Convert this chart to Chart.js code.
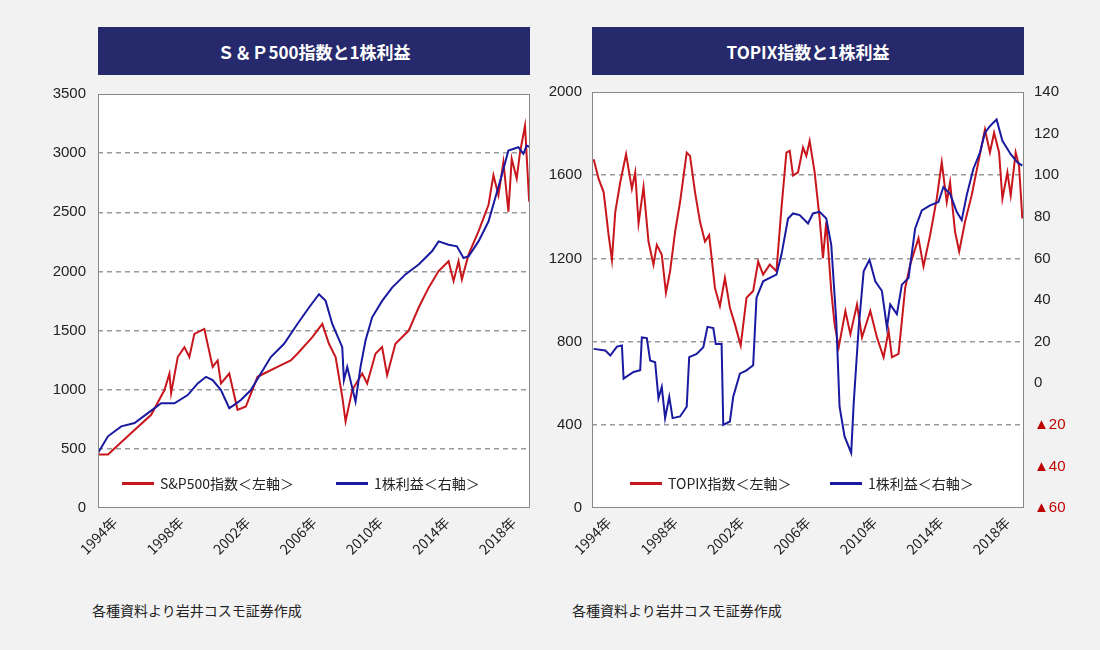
<!DOCTYPE html>
<html>
<head>
<meta charset="utf-8">
<script src="https://cdn.jsdelivr.net/npm/chart.js@4/dist/chart.umd.min.js"></script>
<style>
  body { margin: 0; background: #f2f2f2; font-family: "Noto Sans CJK JP", "Noto Sans", sans-serif; }
  #wrap { position: relative; width: 1100px; height: 650px; overflow: hidden; }
  .banner { position: absolute; top: 27px; height: 48px; width: 432px; background: #262a6c; color: #fff;
            font-weight: bold; font-size: 17px; display: flex; align-items: center; justify-content: center; }
  .box { position: absolute; }
  .note { position: absolute; top: 600px; font-size: 14px; color: #222; }
  .legend { position: absolute; top: 473px; font-size: 14px; color: #222; display: flex; align-items: center; white-space: nowrap; }
  .legend i { display: inline-block; width: 32px; height: 3px; margin-right: 6px; }
</style>
</head>
<body>
<div id="wrap">
  <div class="banner" style="left:98px">Ｓ＆Ｐ500指数と1株利益</div>
  <div class="banner" style="left:592px">TOPIX指数と1株利益</div>
  <div class="box" style="left:30px;top:73px;width:510px;height:492px"><canvas id="spChart"></canvas></div>
  <div class="box" style="left:540px;top:73px;width:540px;height:492px"><canvas id="tpChart"></canvas></div>
  <div class="legend" style="left:122px"><i style="background:#c8161d"></i>S&amp;P500指数＜左軸＞</div>
  <div class="legend" style="left:336px"><i style="background:#1a1aa0"></i>1株利益＜右軸＞</div>
  <div class="legend" style="left:630px"><i style="background:#c8161d"></i>TOPIX指数＜左軸＞</div>
  <div class="legend" style="left:830px"><i style="background:#1a1aa0"></i>1株利益＜右軸＞</div>
  <div class="note" style="left:92px">各種資料より岩井コスモ証券作成</div>
  <div class="note" style="left:572px">各種資料より岩井コスモ証券作成</div>
</div>
<script>
// S&P500 (left chart)
const spYears = [1993.0,1993.6,1995.0,1996.2,1997.0,1997.3,1997.4,1997.8,1998.2,1998.5,1998.8,1999.4,1999.9,2000.2,2000.4,2000.9,2001.4,2001.9,2002.6,2003.0,2003.8,2004.6,2005.0,2005.9,2006.5,2006.9,2007.3,2007.7,2007.9,2008.3,2008.9,2009.2,2009.7,2010.1,2010.4,2010.9,2011.7,2012.3,2012.9,2013.5,2014.1,2014.4,2014.7,2014.9,2015.3,2015.9,2016.5,2016.8,2017.1,2017.4,2017.7,2017.9,2018.2,2018.4,2018.7,2018.95];
const spIndex = [452,452,634,788,997,1137,970,1276,1360,1276,1472,1514,1193,1248,1053,1137,830,858,1109,1137,1193,1248,1304,1444,1556,1388,1276,941,732,997,1137,1053,1304,1360,1123,1388,1500,1695,1863,2003,2086,1919,2086,1933,2142,2338,2561,2813,2645,2924,2505,2952,2785,3008,3232,2589];
const spEpsYears = [1993.0,1993.6,1994.4,1995.2,1996.0,1996.8,1997.6,1998.4,1999.0,1999.5,1999.9,2000.4,2000.9,2001.2,2001.6,2002.2,2002.8,2003.4,2004.2,2005.0,2005.7,2006.3,2006.7,2007.1,2007.7,2007.8,2008.0,2008.5,2008.8,2009.1,2009.5,2010.1,2010.7,2011.5,2012.3,2013.1,2013.5,2014.1,2014.6,2015.0,2015.3,2015.9,2016.5,2016.9,2017.3,2017.7,2018.3,2018.6,2018.8,2019.0];
const spEps = [466,606,690,718,802,885,885,955,1053,1109,1081,997,844,872,913,997,1137,1276,1388,1556,1695,1807,1751,1556,1360,1081,1193,899,1193,1416,1612,1751,1863,1975,2058,2170,2254,2226,2212,2114,2128,2254,2422,2617,2813,3022,3050,2994,3064,3050];

// TOPIX (right chart)
const tpYears = [1993.1,1993.4,1993.7,1994.0,1994.2,1994.4,1994.7,1995.05,1995.4,1995.6,1995.8,1996.1,1996.4,1996.7,1996.9,1997.2,1997.45,1997.7,1998.0,1998.3,1998.7,1998.9,1999.2,1999.5,1999.8,2000.05,2000.4,2000.7,2001.0,2001.3,2001.6,2001.95,2002.3,2002.7,2003.0,2003.3,2003.7,2004.1,2004.4,2004.7,2004.9,2005.1,2005.4,2005.7,2005.9,2006.1,2006.4,2006.7,2006.9,2007.1,2007.4,2007.6,2007.85,2008.25,2008.55,2008.95,2009.25,2009.75,2010.15,2010.55,2010.85,2011.05,2011.45,2011.85,2012.15,2012.65,2012.95,2013.35,2013.75,2014.05,2014.35,2014.55,2014.85,2015.1,2015.45,2015.85,2016.25,2016.65,2016.95,2017.2,2017.5,2017.7,2018.0,2018.2,2018.5,2018.7,2018.9];
const tpIndex = [1677,1582,1519,1312,1193,1423,1566,1701,1535,1614,1368,1543,1281,1170,1265,1217,1035,1138,1328,1471,1709,1693,1519,1376,1281,1312,1058,971,1106,963,884,781,1011,1043,1185,1122,1170,1138,1439,1709,1717,1598,1614,1733,1693,1765,1614,1392,1201,1376,1043,884,773,947,836,979,820,947,820,725,852,725,741,1058,1170,1297,1162,1312,1487,1662,1471,1566,1328,1233,1376,1503,1662,1820,1709,1804,1709,1487,1614,1503,1709,1646,1392];
const tpEpsYears = [1993.1,1993.8,1994.1,1994.5,1994.8,1994.9,1995.5,1995.9,1996.0,1996.3,1996.5,1996.8,1997.0,1997.2,1997.4,1997.65,1997.85,1998.3,1998.7,1998.85,1999.3,1999.7,1999.95,2000.3,2000.45,2000.8,2000.9,2001.3,2001.5,2001.9,2002.3,2002.7,2002.9,2003.3,2003.7,2004.1,2004.4,2004.8,2005.1,2005.5,2006.0,2006.3,2006.7,2007.1,2007.4,2007.7,2007.9,2008.2,2008.6,2008.75,2009.05,2009.35,2009.7,2010.05,2010.45,2010.75,2010.95,2011.35,2011.65,2012.05,2012.45,2012.85,2013.35,2013.85,2014.15,2014.55,2014.95,2015.25,2015.55,2015.95,2016.35,2016.65,2016.95,2017.35,2017.7,2018.2,2018.6,2018.9];
const tpEps = [16.5,15.7,13.3,17.6,18.1,2.2,5.4,6.2,22.0,21.7,10.9,10.1,-7.3,-1.8,-16.8,-6.5,-16.8,-16.0,-11.3,12.5,14.1,17.3,27.1,26.5,18.9,18.9,-20.0,-18.4,-6.5,4.6,6.2,8.6,41.1,49.0,50.6,52.2,61.7,79.2,81.6,80.8,76.8,81.6,82.4,79.2,66.5,30.0,-11.3,-25.6,-33.5,-9.7,26.8,53.8,59.3,49.0,44.3,26.8,37.9,33.2,47.4,50.6,74.4,83.1,85.5,87.1,94.3,91.1,82.4,78.4,90.3,103.0,110.9,120.4,123.6,126.8,116.5,110.1,106.2,104.6];

const yearTicks = [1994, 1998, 2002, 2006, 2010, 2014, 2018];
const RED = '#c8161d', BLUE = '#1a1aa0';

function pts(xs, ys) { return xs.map((x, i) => ({ x: x, y: ys[i] })); }

// white plot area + grey frame
const framePlugin = {
    id: 'frame',
    beforeDraw(chart) {
        const a = chart.chartArea, c = chart.ctx;
        c.save();
        c.fillStyle = '#fff';
        c.fillRect(a.left, a.top, a.width, a.height);
        c.restore();
    },
    afterDraw(chart) {
        const a = chart.chartArea, c = chart.ctx;
        c.save();
        c.strokeStyle = '#888';
        c.lineWidth = 1;
        c.strokeRect(a.left + 0.5, a.top + 0.5, a.width - 1, a.height - 1);
        c.restore();
    }
};

function xScale() {
    return {
        type: 'linear', min: 1993, max: 2019,
        afterBuildTicks: s => { s.ticks = yearTicks.map(v => ({ value: v })); },
        afterFit: s => { s.height = 57; },
        grid: { display: false, drawTicks: false },
        border: { display: false },
        ticks: { minRotation: 45, maxRotation: 45, padding: 6, color: '#222',
                 font: { size: 14, family: '"Noto Sans CJK JP"' }, callback: v => v + '年' }
    };
}

function leftGrid(max) {
    return {
        color: ctx => (ctx.tick.value === 0 || ctx.tick.value === max) ? 'rgba(0,0,0,0)' : '#9a9a9a',
        lineWidth: 1.5, drawTicks: false
    };
}

function line(label, data, color, axis) {
    return { label: label, data: data, borderColor: color, borderWidth: 2, pointRadius: 0,
             tension: 0, yAxisID: axis };
}

new Chart(document.getElementById('spChart'), {
    type: 'line',
    data: { datasets: [
        line('1株利益', pts(spEpsYears, spEps), BLUE, 'y'),
        line('S&P500指数', pts(spYears, spIndex), RED, 'y')
    ] },
    options: {
        responsive: true, maintainAspectRatio: false, animation: false,
        layout: { padding: { top: 8, right: 10, left: 0, bottom: 0 } },
        plugins: { legend: { display: false }, tooltip: { enabled: false } },
        scales: {
            x: xScale(),
            y: {
                min: 0, max: 3500,
                ticks: { stepSize: 500, padding: 12, color: '#222', font: { size: 15 }, callback: v => String(v) },
                afterFit: s => { s.width = 68; },
                grid: leftGrid(3500),
                border: { display: false, dash: [5, 4] }
            }
        }
    },
    plugins: [framePlugin]
});

new Chart(document.getElementById('tpChart'), {
    type: 'line',
    data: { datasets: [
        line('1株利益', pts(tpEpsYears, tpEps), BLUE, 'y1'),
        line('TOPIX指数', pts(tpYears, tpIndex), RED, 'y')
    ] },
    options: {
        responsive: true, maintainAspectRatio: false, animation: false,
        layout: { padding: { top: 8, right: 0, left: 0, bottom: 0 } },
        plugins: { legend: { display: false }, tooltip: { enabled: false } },
        scales: {
            x: xScale(),
            y: {
                position: 'left', min: 0, max: 2000,
                ticks: { stepSize: 400, padding: 10, color: '#222', font: { size: 15 }, callback: v => String(v) },
                afterFit: s => { s.width = 52; },
                grid: leftGrid(2000),
                border: { display: false, dash: [5, 4] }
            },
            y1: {
                position: 'right', min: -60, max: 140,
                ticks: { stepSize: 20, padding: 10, font: { size: 15 },
                         color: ctx => ctx.tick.value < 0 ? '#c00000' : '#222',
                         callback: v => v < 0 ? '▲' + Math.abs(v) : String(v) },
                afterFit: s => { s.width = 56; },
                grid: { display: false, drawTicks: false },
                border: { display: false }
            }
        }
    },
    plugins: [framePlugin]
});
</script>
</body>
</html>
